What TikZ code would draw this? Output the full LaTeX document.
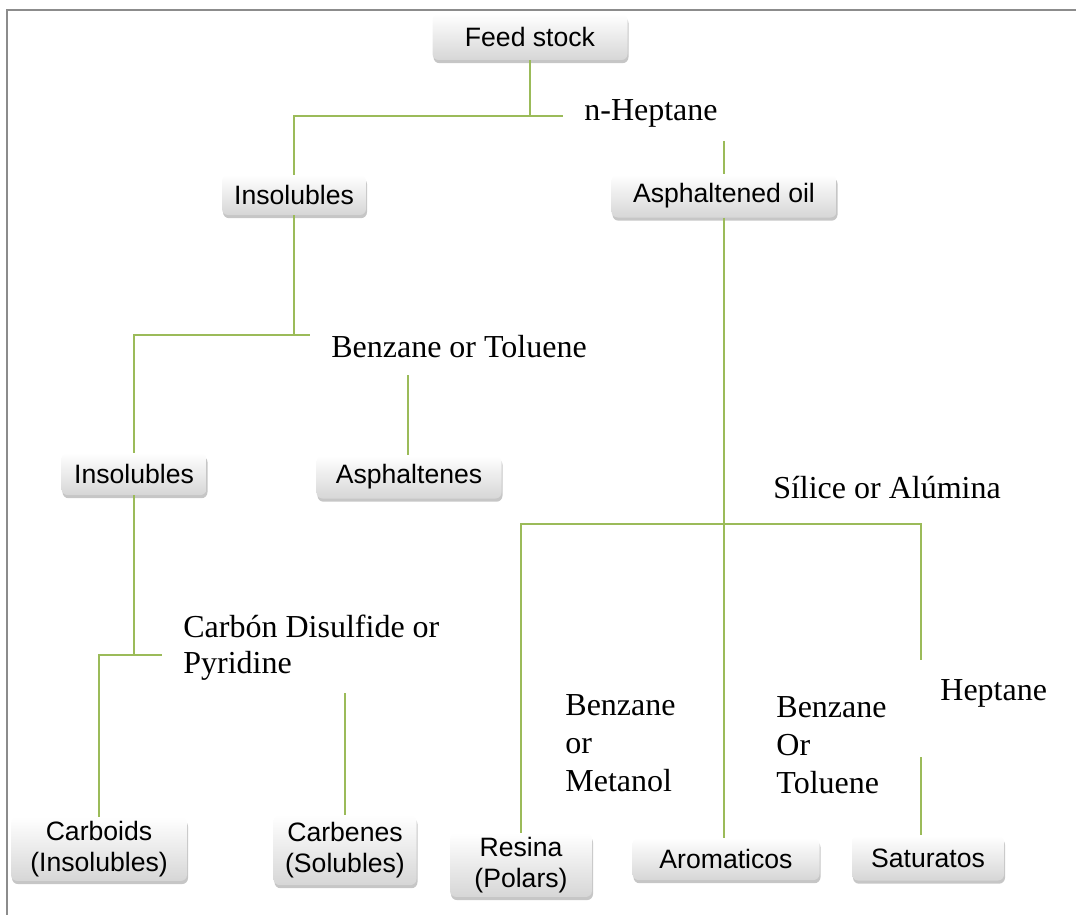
\documentclass[tikz,border=0pt]{standalone}
\usepackage{fontspec}
\setmainfont{Liberation Serif}
\newfontfamily\boxfont{Liberation Sans}
\usepackage{tikz}
\usetikzlibrary{shadows, positioning}
\definecolor{linkgreen}{HTML}{9BBB59}
\definecolor{framegray}{HTML}{8C8C8C}

\tikzset{
  fracbox/.style={rounded corners=3pt, top color=white, bottom color=gray!32,
                  drop shadow={shadow xshift=0.5pt, shadow yshift=-1.6pt, opacity=0.45},
                  align=center, inner sep=2pt, font=\boxfont\fontsize{13.3}{15.5}\selectfont},
  solvent/.style={font=\fontsize{16}{19}\selectfont, inner sep=0pt},
  link/.style={draw=linkgreen, line width=1pt}
}

\begin{document}
\begin{tikzpicture}[x=0.5pt, y=-0.5pt]
    \useasboundingbox (0,0) rectangle (1076,915);
    % frame
    \draw[framegray, line width=1pt] (1076,10) -- (7,10) -- (7,915);

    % fractions
    \node[fracbox, minimum width=97.5pt, minimum height=23pt] (feed) at (530,37) {Feed stock};
    \node[fracbox, minimum width=72pt, minimum height=20pt] (ins1) at (294,195) {Insolubles};
    \node[fracbox, minimum width=112.5pt, minimum height=21.5pt] (oil) at (724,196) {Asphaltened oil};
    \node[fracbox, minimum width=72.5pt, minimum height=21pt] (ins2) at (134,474) {Insolubles};
    \node[fracbox, minimum width=92.5pt, minimum height=21.5pt] (asph) at (409,477) {Asphaltenes};
    \node[fracbox, minimum width=88pt, minimum height=31pt] (carboids) at (99,849) {Carboids\\(Insolubles)};
    \node[fracbox, minimum width=71.5pt, minimum height=35pt] (carbenes) at (345,850) {Carbenes\\(Solubles)};
    \node[fracbox, minimum width=71pt, minimum height=30pt] (resina) at (521,865) {Resina\\(Polars)};
    \node[fracbox, minimum width=93.5pt, minimum height=21pt] (aroma) at (726,859) {Aromaticos};
    \node[fracbox, minimum width=76pt, minimum height=22.5pt] (satur) at (928,858) {Saturatos};

    % solvents
    \node[solvent] (heptane) at (651,113) {n-Heptane};
    \node[solvent] (benztol) at (459,347) {Benzane or Toluene};
    \node[solvent, anchor=west, align=left] (cds) at (183,648) {Carbón Disulfide or\\[-1pt]Pyridine};
    \node[solvent] (silice) at (887,488) {Sílice or Alúmina};
    \node[solvent, anchor=west, align=left] (benzmet) at (565,743) {Benzane\\or\\Metanol};
    \node[solvent, anchor=west, align=left] (benztol2) at (776,745) {Benzane\\Or\\Toluene};
    \node[solvent, anchor=west] (hept2) at (940,693) {Heptane};

    % free ends
    \coordinate (hepR) at (563,116);
    \coordinate (hepB) at (724,141);
    \coordinate (benzR) at (310,335);
    \coordinate (benzB) at (408,375);
    \coordinate (cdsR) at (162,655);
    \coordinate (cdsB) at (345,693);
    \coordinate (silJ) at (724,524);
    \coordinate (silR) at (921,660);
    \coordinate (heptB) at (921,757);

    % connectors
    \draw[link] (feed.south) -- (feed.south |- hepR);
    \draw[link] (ins1.north) |- (hepR);
    \draw[link] (hepB) -- (oil.north);
    \draw[link] (ins1.south) -- (ins1.south |- benzR);
    \draw[link] (ins2.north) |- (benzR);
    \draw[link] (benzB) -- (benzB |- asph.north);
    \draw[link] (ins2.south) -- (ins2.south |- cdsR);
    \draw[link] (carboids.north) |- (cdsR);
    \draw[link] (cdsB) -- (carbenes.north);
    \draw[link] (oil.south) -- (oil.south |- aroma.north);
    \draw[link] (resina.north) |- (silJ) -| (silR);
    \draw[link] (heptB) -- (heptB |- satur.north);
  \end{tikzpicture}
\end{document}
